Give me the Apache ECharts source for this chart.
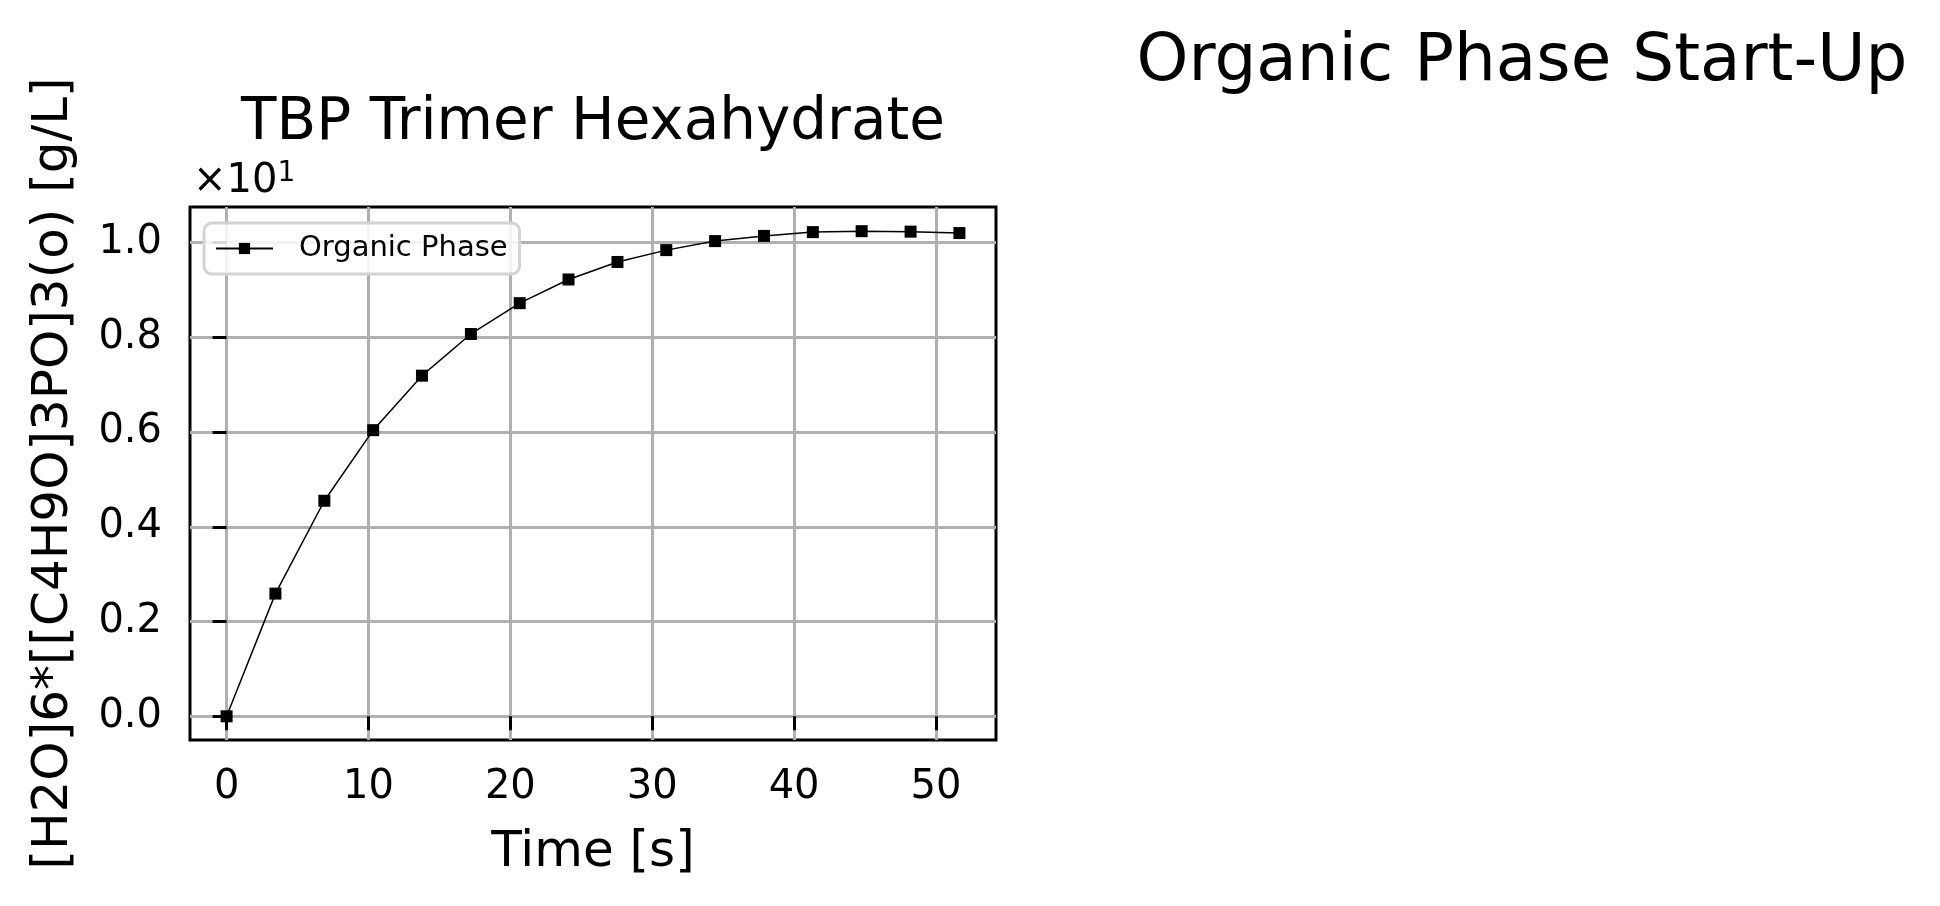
<!DOCTYPE html>
<html>
<head>
<meta charset="utf-8">
<script src="https://cdn.jsdelivr.net/npm/echarts@6/dist/echarts.min.js"></script>
<style>
  html, body { margin: 0; padding: 0; background: #fff; }
  #chart { width: 1940px; height: 906px; }
</style>
</head>
<body>
<div id="chart"></div>
<script>
// time [s] and concentration [g/L]
const times = [0, 3.44, 6.89, 10.33, 13.77, 17.22, 20.66, 24.1, 27.55, 30.99, 34.43, 37.88, 41.32, 44.76, 48.21, 51.65]
const organic = [0, 2.59, 4.55, 6.04, 7.19, 8.07, 8.72, 9.22, 9.59, 9.84, 10.03, 10.14, 10.22, 10.24, 10.23, 10.2]
const xTicks = [0, 10, 20, 30, 40, 50]
const yTicks = [0, 2, 4, 6, 8, 10] // shown as 0.0 .. 1.0 with x10^1 offset

const font = 'DejaVu Sans'
let points = times.map((t, i) => [t, organic[i]])

let myChart = echarts.init(document.getElementById('chart'))
let option = {
  backgroundColor: '#fff',
  animation: false,
  textStyle: { fontFamily: font },
  graphic: [
    {
      type: 'text', x: 1522, y: 63,
      style: { text: 'Organic Phase Start-Up', font: '66px "DejaVu Sans"', fill: '#000', textAlign: 'center', textVerticalAlign: 'middle' }
    },
    {
      type: 'text', x: 593, y: 124,
      style: { text: 'TBP Trimer Hexahydrate', font: '58px "DejaVu Sans"', fill: '#000', textAlign: 'center', textVerticalAlign: 'middle' }
    },
    {
      type: 'text', x: 193, y: 182,
      style: {
        text: '{a|×10}{b|1}',
        textVerticalAlign: 'middle',
        rich: {
          a: { fontSize: 40, fontFamily: font, color: '#000' },
          b: { fontSize: 28, fontFamily: font, color: '#000', padding: [0, 0, 16, 0] }
        }
      }
    }
  ],
  grid: {
    left: 190, top: 207, width: 806, height: 533,
    show: true, borderColor: '#000', borderWidth: 3
  },
  legend: {
    left: 204, top: 223,
    padding: [11, 12, 11, 11],
    itemWidth: 57, itemHeight: 14,
    borderColor: '#d3d3d3', borderWidth: 3, borderRadius: 8,
    backgroundColor: 'rgba(255,255,255,0.85)',
    textStyle: { fontSize: 29, fontFamily: font, color: '#000', padding: [0, 0, 0, 21] },
    data: ['Organic Phase']
  },
  xAxis: {
    type: 'value', min: -2.58, max: 54.23,
    name: 'Time [s]', nameLocation: 'middle', nameGap: 88,
    nameTextStyle: { fontSize: 50, fontFamily: font, color: '#000' },
    axisLine: { show: false },
    axisTick: { show: true, length: 14, lineStyle: { color: '#000', width: 3 }, customValues: xTicks },
    axisLabel: { margin: 28, fontSize: 40, fontFamily: font, color: '#000', customValues: xTicks },
    splitLine: { show: true, lineStyle: { color: '#b0b0b0', width: 3 } }
  },
  yAxis: {
    type: 'value', min: -0.5, max: 10.75,
    name: '[H2O]6*[[C4H9O]3PO]3(o) [g/L]', nameLocation: 'middle', nameGap: 111, nameRotate: 90,
    nameTextStyle: { fontSize: 50, fontFamily: font, color: '#000' },
    axisLine: { show: false },
    axisTick: { show: true, length: 14, lineStyle: { color: '#000', width: 3 }, customValues: yTicks },
    axisLabel: {
      margin: 28, fontSize: 40, fontFamily: font, color: '#000', customValues: yTicks,
      formatter: v => (v / 10).toFixed(1)
    },
    splitLine: { show: true, lineStyle: { color: '#b0b0b0', width: 3 } }
  },
  series: [
    {
      name: 'Organic Phase',
      type: 'line',
      data: points,
      symbol: 'rect', symbolSize: 12,
      showAllSymbol: true,
      lineStyle: { color: '#000', width: 1.5 },
      itemStyle: { color: '#000' },
      z: 3
    }
  ]
}
myChart.setOption(option, true)
</script>
</body>
</html>
